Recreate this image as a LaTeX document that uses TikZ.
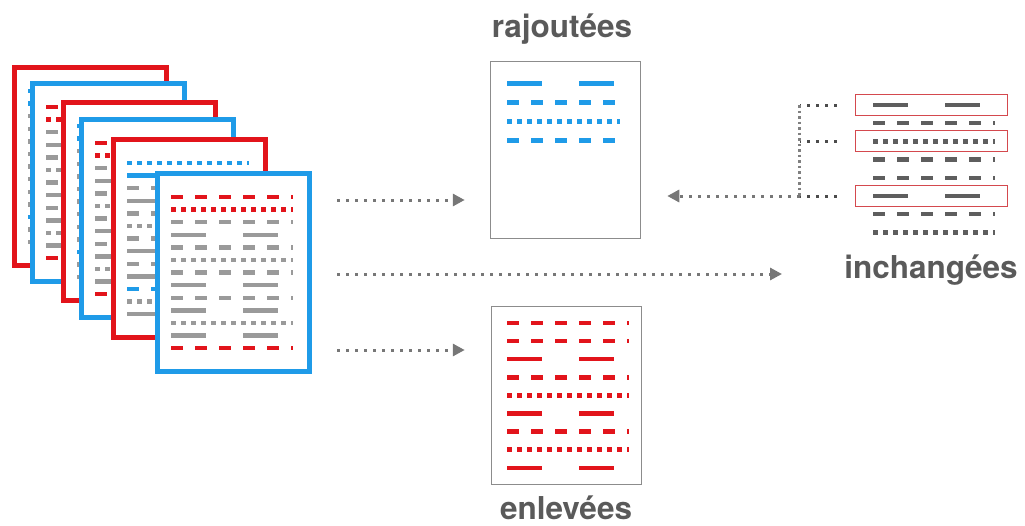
\documentclass[tikz,border=0pt]{standalone}
\usepackage{fontspec}
\setmainfont{TeX Gyre Heros}
\usepackage{tikz}
\usetikzlibrary{arrows.meta}
\definecolor{docred}{HTML}{E2141B}
\definecolor{docblue}{HTML}{1F9BE8}
\definecolor{rowgray}{HTML}{9A9A9A}
\definecolor{keepgray}{HTML}{5E5E5E}
\definecolor{keepred}{HTML}{D4494E}
\definecolor{framegray}{HTML}{8C8C8C}
\definecolor{titlegray}{HTML}{5A5A5A}
\definecolor{arrowgray}{HTML}{777777}

\begin{document}
\begin{tikzpicture}[x=1pt, y=-1pt,
    page/.style={draw, fill=white, line width=5pt, minimum width=152pt, minimum height=198pt, inner sep=0pt},
    box/.style={draw=framegray, fill=white, line width=1.5pt, minimum width=150pt, minimum height=177pt, inner sep=0pt},
    keep/.style={draw=keepred, line width=1pt, minimum width=152pt, minimum height=21pt, inner sep=0pt},
    dashrow/.style={line width=4.5pt, dash pattern=on 12pt off 12pt},
    dotrow/.style={line width=4.5pt, dash pattern=on 4.5pt off 5.5pt},
    longrow/.style={line width=4.5pt, dash pattern=on 35pt off 37pt on 35pt off 60pt},
    flow/.style={draw=arrowgray, line width=3pt, dash pattern=on 3pt off 6pt, -{Triangle[length=12pt,width=12pt]}},
    tie/.style={draw=keepgray!80!black, line width=3pt, dash pattern=on 3pt off 6pt},
    spine/.style={draw=gray, line width=2.5pt, dash pattern=on 2.5pt off 3pt},
    title/.style={text=titlegray, font=\fontsize{31.5}{36}\selectfont\bfseries}]
		\useasboundingbox (0,0) rectangle (1025,525);
		%% rows of the documents
		\def\rowsA{dashrow/docred, dotrow/docred, dashrow/rowgray, longrow/rowgray, dashrow/rowgray, dotrow/rowgray, dashrow/rowgray, longrow/rowgray, dashrow/rowgray, longrow/rowgray, dotrow/rowgray, longrow/rowgray, dashrow/docred}
		\def\rowsB{dotrow/docblue, longrow/docblue, dashrow/rowgray, longrow/rowgray, dashrow/rowgray, dotrow/rowgray, dashrow/rowgray, longrow/rowgray, dashrow/rowgray, longrow/rowgray, dashrow/docblue, dotrow/rowgray, longrow/rowgray}
		%% stack of versions
		\foreach \cx/\cy/\edge [count=\n] in {90.5/166.5/docred, 108.5/182.5/docblue, 139.5/201.5/docred, 157.5/218.5/docblue, 189.5/238.5/docred, 233.5/272.5/docblue} {
			\node[page, draw=\edge] (p\n) at (\cx,\cy) {};
			\ifodd\n \let\rows\rowsB \else \let\rows\rowsA \fi
			\foreach \kind/\col [count=\r] in \rows
				\draw[\kind, \col] (\cx-62.5, \cy-75.5+12.6*\r-12.6) -- ++(122,0);
		}
		%% added lines
		\node[box] (raj) at (565.5,150) {};
		\foreach \kind [count=\r] in {longrow, dashrow, dotrow, dashrow}
			\draw[\kind, docblue] (507, 64.5+19*\r) -- ++(113,0);
		\node[title, anchor=base] (traj) at (562,37.5) {rajoutées};
		%% removed lines
		\node[box, minimum height=178pt] (enl) at (566.5,395.5) {};
		\foreach \kind [count=\r] in {dashrow, dashrow, longrow, dashrow, dotrow, longrow, dashrow, dotrow, longrow}
			\draw[\kind, docred] (507, 304.9+18.1*\r) -- ++(122,0);
		\node[title, anchor=base] (tenl) at (566,519) {enlevées};
		%% unchanged lines
		\foreach \kind [count=\r] in {longrow, dashrow, dotrow, dashrow, dashrow, longrow, dashrow, dotrow}
			\draw[\kind, keepgray] (873, 86.8+18.2*\r) -- ++(122,0);
		\node[keep] (k1) at (931,105) {};
		\node[keep] (k2) at (931,141.4) {};
		\node[keep] (k3) at (931,196) {};
		\node[title, anchor=base] (tinc) at (931,278) {inchangées};
		%% bracket and arrows
		\draw[tie] ([xshift=-18pt]k1.west) -- ++(-37,0) coordinate (b1);
		\draw[tie] ([xshift=-18pt]k2.west) -- (b1 |- k2.west) coordinate (b2);
		\draw[tie] ([xshift=-18pt]k3.west) -- (b1 |- k3.west) coordinate (b3);
		\draw[spine] (b1) -- (b3);
		\draw[flow, shorten >=26pt] (b3) -- (raj.east |- b3);
		\coordinate (mid) at (782,274);
		\draw[flow, shorten <=25pt, shorten >=25pt] (p6.east |- 0,200) -- (raj.west |- 0,200);
		\draw[flow, shorten <=25pt] (p6.east |- mid) -- (mid);
		\draw[flow, shorten <=25pt, shorten >=26pt] (p6.east |- 0,350) -- (enl.west |- 0,350);
	\end{tikzpicture}
\end{document}
